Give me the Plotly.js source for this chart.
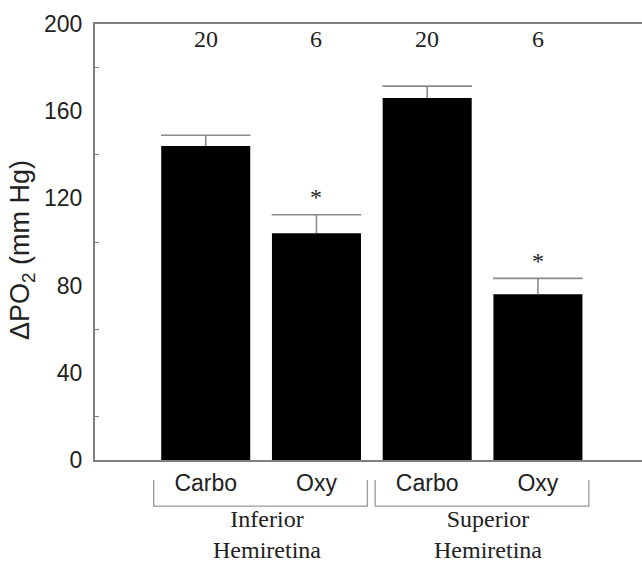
<!DOCTYPE html>
<html>
<head>
<meta charset="utf-8">
<script src="https://cdn.plot.ly/plotly-3.0.1.min.js"></script>
<style>html,body{margin:0;padding:0;background:#fff;}</style>
</head>
<body>
<div id="chart" style="width:642px;height:563px;"></div>
<script>
const categories = ['Carbo', 'Oxy', 'Carbo', 'Oxy'];
const xPos = [0, 1, 2, 3];
const means = [144, 104, 166, 76];
const sem = [5, 8.5, 5.5, 7.3];
const nLabels = ['20', '6', '20', '6'];
const significant = [false, true, false, true];
const groups = ['Inferior<br>Hemiretina', 'Superior<br>Hemiretina'];
const groupMembers = [[0, 1], [2, 3]];
const yTicks = [0, 40, 80, 120, 160, 200];

const axisGray = '#808080';
const errGray = '#8a8a8a';
const serif = 'Liberation Serif, Times New Roman, serif';
const sans = 'Liberation Sans, Arial, sans-serif';

const bars = {
  type: 'bar',
  x: xPos,
  y: means,
  marker: {color: '#000000', line: {width: 0}},
  error_y: {
    type: 'data',
    symmetric: false,
    array: sem,
    arrayminus: sem.map(() => 0),
    color: errGray,
    thickness: 1.6,
    width: 0
  },
  hoverinfo: 'skip'
};

const caps = {
  type: 'scatter',
  mode: 'markers',
  x: xPos,
  y: means.map((m, i) => m + sem[i]),
  marker: {symbol: 'line-ew', size: 64, color: errGray, line: {color: errGray, width: 1.6}},
  hoverinfo: 'skip',
  cliponaxis: false
};

const annotations = [];
xPos.forEach((x, i) => {
  annotations.push({
    x: x, y: 193, xref: 'x', yref: 'y',
    text: nLabels[i], showarrow: false,
    font: {family: serif, size: 24, color: '#222'},
    xanchor: 'center', yanchor: 'middle'
  });
  if (significant[i]) {
    annotations.push({
      x: x, y: means[i] + sem[i] + 8, xref: 'x', yref: 'y',
      text: '*', showarrow: false,
      font: {family: serif, size: 24, color: '#222'},
      xanchor: 'center', yanchor: 'middle'
    });
  }
});

const shapes = [];
groupMembers.forEach((m, g) => {
  const x0 = xPos[m[0]] - 0.47;
  const x1 = xPos[m[m.length - 1]] + 0.46;
  shapes.push({
    type: 'path', xref: 'x', yref: 'paper',
    path: `M ${x0} -0.046 L ${x0} -0.1056 L ${x1} -0.1056 L ${x1} -0.046`,
    line: {color: '#999999', width: 1.3}
  });
  annotations.push({
    x: (xPos[m[0]] + xPos[m[m.length - 1]]) / 2 + 0.05, y: -0.171,
    xref: 'x', yref: 'paper',
    text: groups[g], showarrow: false,
    font: {family: serif, size: 24, color: '#222'},
    xanchor: 'center', yanchor: 'middle', align: 'center'
  });
});

annotations.push({
  x: -0.133, y: 0.482, xref: 'paper', yref: 'paper',
  text: 'ΔPO<sub>2</sub> (mm Hg)', textangle: -90, showarrow: false,
  font: {family: sans, size: 27, color: '#222'},
  xanchor: 'center', yanchor: 'middle'
});

const layout = {
  width: 642, height: 563,
  margin: {l: 95, r: 0, t: 24, b: 103, pad: 0},
  paper_bgcolor: '#ffffff', plot_bgcolor: '#ffffff',
  showlegend: false,
  bargap: 0.196,
  xaxis: {
    range: [-1, 3.94],
    tickvals: xPos, ticktext: categories,
    ticks: '', showgrid: false, zeroline: false,
    showline: true, linecolor: axisGray, linewidth: 2, mirror: true,
    tickfont: {family: sans, size: 23, color: '#222'},
    ticklabelstandoff: 1,
    fixedrange: true
  },
  yaxis: {
    range: [0, 200],
    tickvals: yTicks,
    ticks: '', showgrid: false, zeroline: false,
    showline: true, linecolor: axisGray, linewidth: 2,
    tickfont: {family: sans, size: 23, color: '#222'},
    ticklabelstandoff: 6,
    minor: {tickvals: [20, 60, 100, 140, 180], ticks: 'inside', ticklen: 4, tickcolor: axisGray, tickwidth: 1, showgrid: false},
    fixedrange: true
  },
  annotations: annotations,
  shapes: shapes
};

Plotly.newPlot('chart', [bars, caps], layout, {staticPlot: true, displayModeBar: false});
</script>
</body>
</html>
